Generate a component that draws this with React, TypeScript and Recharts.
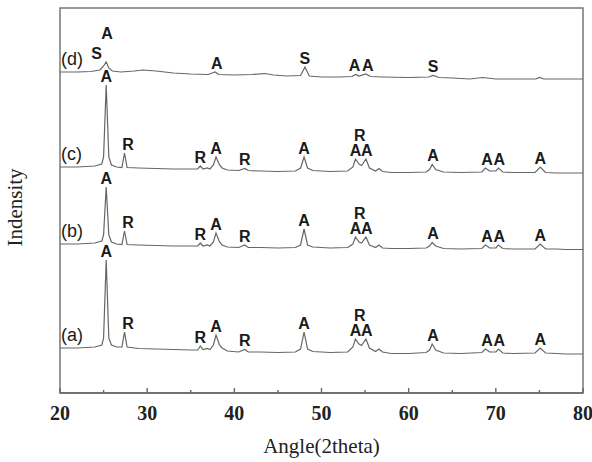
import React from 'react';
import {
  ComposedChart,
  Line,
  Scatter,
  XAxis,
  YAxis,
  ReferenceArea,
  Label,
} from 'recharts';

// XRD patterns, intensity in arbitrary units (already offset for stacking)
const patternA: [number, number][] = [
  [20, 45], [22, 45], [24, 46], [24.8, 48], [25.0, 55], [25.3, 133], [25.6, 55], [25.9, 48],
  [26.5, 46], [27.1, 46], [27.4, 61], [27.7, 46], [29, 44.5], [31, 44], [33, 43.5], [35, 43],
  [35.8, 43], [36.1, 47], [36.4, 43.5], [36.9, 44.5], [37.2, 43.5], [37.6, 48], [37.9, 58],
  [38.3, 48], [38.6, 45], [39.2, 42], [40.5, 41], [41.2, 43.5], [41.6, 41], [43, 41],
  [45, 40.5], [47, 41], [47.6, 44], [48.0, 61], [48.4, 44], [49, 41.5], [51, 40.5], [53, 41],
  [53.6, 46], [53.9, 54], [54.3, 49], [54.6, 47.5], [55.1, 54], [55.5, 45], [56.2, 41.5],
  [56.6, 44], [57, 41], [58, 39.5], [60, 39.5], [62, 40.5], [62.4, 43], [62.7, 49], [63.1, 43],
  [64, 40], [66, 39.5], [68.4, 40.5], [68.8, 44], [69.3, 41], [70.0, 41], [70.3, 44],
  [70.8, 40], [72, 39.5], [74.5, 40], [75.1, 45], [75.7, 40], [77, 39.5], [78, 39], [80, 39],
];

const patternB: [number, number][] = [
  [20, 149], [22, 149], [24, 150], [24.8, 152], [25.0, 158], [25.3, 206], [25.6, 158],
  [25.9, 151], [26.5, 149], [27.1, 148.5], [27.4, 162], [27.7, 148.5], [29, 148], [31, 147.5],
  [33, 147], [35, 147], [35.8, 147], [36.1, 150], [36.4, 147], [36.9, 148], [37.2, 147],
  [37.6, 151], [37.9, 160], [38.3, 151], [38.6, 148], [39.2, 146], [40.5, 145.5], [41.2, 148],
  [41.6, 145.5], [43, 145.5], [45, 145], [47, 145.5], [47.6, 148], [48.0, 164], [48.4, 148],
  [49, 146], [51, 145], [53, 145.5], [53.6, 149], [53.9, 156], [54.3, 151], [54.6, 150],
  [55.1, 156], [55.5, 148], [56.2, 145.5], [56.6, 148], [57, 145], [58, 144.5], [60, 144.5],
  [62, 145], [62.4, 147], [62.7, 150.5], [63.1, 147], [64, 144.5], [66, 144], [68.4, 144.5],
  [68.8, 148], [69.3, 145], [70.0, 145], [70.3, 148], [70.8, 144.5], [72, 144], [74.5, 144],
  [75.1, 149], [75.7, 144], [77, 144], [78, 143.5], [80, 143.5],
];

const patternC: [number, number][] = [
  [20, 226], [22, 226], [24, 227], [24.8, 229], [25.0, 236], [25.3, 308], [25.6, 236],
  [25.9, 228], [26.5, 226], [27.1, 225.5], [27.4, 240], [27.7, 225.5], [29, 225], [31, 224.5],
  [33, 224], [35, 224], [35.8, 224], [36.1, 227], [36.4, 224], [36.9, 225], [37.2, 224],
  [37.6, 228], [37.9, 236], [38.3, 228], [38.6, 225], [39.2, 223], [40.5, 222.5], [41.2, 224.5],
  [41.6, 222.5], [43, 222], [45, 221.5], [47, 222], [47.6, 225], [48.0, 236], [48.4, 225],
  [49, 222.5], [51, 221.5], [53, 222], [53.6, 226], [53.9, 234], [54.3, 229], [54.6, 227.5],
  [55.1, 234], [55.5, 225], [56.2, 222], [56.6, 224.5], [57, 221.5], [58, 220.5], [60, 220.5],
  [62, 221], [62.4, 223.5], [62.7, 228.5], [63.1, 223.5], [64, 221], [66, 220.5], [68.4, 221],
  [68.8, 225], [69.3, 222], [70.0, 222], [70.3, 225], [70.8, 221], [72, 220.5], [74.5, 220.5],
  [75.1, 226], [75.7, 220.5], [77, 220], [78, 220], [80, 220],
];

const patternD: [number, number][] = [
  [20, 321], [22, 321], [23.5, 321.5], [24.6, 323], [25.0, 327], [25.3, 331], [25.6, 325],
  [26, 322], [27, 321], [28.5, 322], [29.5, 323], [31, 322], [33, 320], [35, 319],
  [37, 318.5], [37.8, 321], [38.2, 318.5], [40, 318], [42, 318.5], [43.5, 319.5], [44.5, 318],
  [46, 317], [47.6, 317.5], [48.1, 326], [48.6, 317], [50, 316], [52, 316], [53.5, 316.5],
  [53.9, 318.5], [54.3, 317], [55.1, 319], [55.6, 316.5], [57, 316], [60, 315.5], [62.3, 316],
  [62.8, 317.5], [63.5, 315.5], [65, 315], [67, 314], [68.5, 315.5], [70, 314], [72, 314],
  [74.6, 314], [75, 315.5], [75.5, 314], [78, 314], [80, 314],
];

// phase markers: A = anatase, R = rutile, S = second phase
type Marker = { angle: number; text: string; row: number };

const markersA: Marker[] = [
  { angle: 25.3, text: 'A', row: 0 },
  { angle: 27.8, text: 'R', row: 0 },
  { angle: 36.1, text: 'R', row: 0 },
  { angle: 37.9, text: 'A', row: 0 },
  { angle: 41.2, text: 'R', row: 0 },
  { angle: 48.0, text: 'A', row: 0 },
  { angle: 53.9, text: 'A', row: 0 },
  { angle: 54.4, text: 'R', row: 1 },
  { angle: 55.2, text: 'A', row: 0 },
  { angle: 62.8, text: 'A', row: 0 },
  { angle: 69.0, text: 'A', row: 0 },
  { angle: 70.4, text: 'A', row: 0 },
  { angle: 75.1, text: 'A', row: 0 },
];
const markersB = markersA;
const markersC = markersA;
const markersD: Marker[] = [
  { angle: 24.2, text: 'S', row: 0.4 },
  { angle: 25.4, text: 'A', row: 1 },
  { angle: 38.0, text: 'A', row: 0 },
  { angle: 48.1, text: 'S', row: 0 },
  { angle: 53.8, text: 'A', row: 0 },
  { angle: 55.3, text: 'A', row: 0 },
  { angle: 62.8, text: 'S', row: 0 },
];

const sampleNames = ['(a)', '(b)', '(c)', '(d)'];
const angleTicks = [20, 25, 30, 35, 40, 45, 50, 55, 60, 65, 70, 75, 80];

const toRows = (p: [number, number][]) => p.map(([angle, value]) => ({ angle, value }));

// put each marker on top of the highest point near its angle
const placeMarkers = (p: [number, number][], markers: Marker[]) =>
  markers.map((m) => {
    const near = p.filter(([a]) => Math.abs(a - m.angle) <= 0.45).map(([, v]) => v);
    return { angle: m.angle, value: Math.max(...near), text: m.text, row: m.row };
  });

const patterns = [patternA, patternB, patternC, patternD];
const markerSets = [markersA, markersB, markersC, markersD];

const nameRows = patterns.map((p, i) => ({ angle: 20, value: p[0][1], text: sampleNames[i] }));

const MarkerText = (props: any) => {
  const { cx, cy, payload } = props;
  return (
    <text
      x={cx}
      y={cy - 9 - payload.row * 20}
      textAnchor="middle"
      dominantBaseline="central"
      fontFamily="'Liberation Sans', Arial, sans-serif"
      fontWeight="bold"
      fontSize={16}
      fill="#1a1a1a"
    >
      {payload.text}
    </text>
  );
};

const NameText = (props: any) => {
  const { cx, cy, payload } = props;
  return (
    <text
      x={cx + 1}
      y={cy - 13}
      dominantBaseline="central"
      fontFamily="'Liberation Sans', Arial, sans-serif"
      fontSize={18}
      fill="#1a1a1a"
    >
      {payload.text}
    </text>
  );
};

const AngleTick = (props: any) => {
  const { x, y, payload } = props;
  const major = payload.value % 10 === 0;
  return (
    <g>
      <line x1={x} x2={x} y1={y} y2={y - (major ? 5 : 3)} stroke="#666" strokeWidth={1.4} />
      {major && (
        <text
          x={x}
          y={y + 20}
          textAnchor="middle"
          dominantBaseline="central"
          fontFamily="'Liberation Serif', 'Times New Roman', serif"
          fontWeight="bold"
          fontSize={20}
          fill="#222"
        >
          {payload.value}
        </text>
      )}
    </g>
  );
};

const XTitle = (props: any) => {
  const { viewBox } = props;
  return (
    <text
      x={viewBox.x + viewBox.width / 2}
      y={viewBox.y + 53}
      textAnchor="middle"
      dominantBaseline="central"
      fontFamily="'Liberation Serif', 'Times New Roman', serif"
      fontSize={21}
      fill="#222"
    >
      Angle(2theta)
    </text>
  );
};

const YTitle = (props: any) => {
  const { viewBox } = props;
  const cx = viewBox.x + 15;
  const cy = viewBox.y + viewBox.height / 2 + 7;
  return (
    <text
      x={cx}
      y={cy}
      transform={`rotate(-90 ${cx} ${cy})`}
      textAnchor="middle"
      dominantBaseline="central"
      fontFamily="'Liberation Serif', 'Times New Roman', serif"
      fontSize={21}
      fill="#222"
    >
      Indensity
    </text>
  );
};

export default function App() {
  return (
    <div style={{ position: 'absolute', left: 0, top: 0, background: '#fff' }}>
      <ComposedChart width={592} height={462} margin={{ top: 8, right: 9, bottom: 0, left: 0 }}>
        <XAxis
          dataKey="angle"
          type="number"
          domain={[20, 80]}
          ticks={angleTicks}
          interval={0}
          allowDataOverflow
          height={69}
          tickSize={0}
          tickMargin={0}
          tickLine={false}
          tick={<AngleTick />}
          axisLine={{ stroke: '#666', strokeWidth: 1.5 }}
          label={<Label content={<XTitle />} />}
        />
        <YAxis
          type="number"
          domain={[0, 385]}
          width={60}
          tick={false}
          tickLine={false}
          axisLine={false}
          label={<Label content={<YTitle />} />}
        />
        <ReferenceArea
          x1={20}
          x2={80}
          y1={0}
          y2={385}
          fill="none"
          stroke="#777"
          strokeWidth={1.5}
          ifOverflow="visible"
        />
        {patterns.map((p, i) => (
          <Line
            key={sampleNames[i]}
            data={toRows(p)}
            dataKey="value"
            type="linear"
            stroke="#666"
            strokeWidth={1.2}
            dot={false}
            activeDot={false}
            isAnimationActive={false}
          />
        ))}
        {patterns.map((p, i) => (
          <Scatter
            key={`m-${sampleNames[i]}`}
            data={placeMarkers(p, markerSets[i])}
            dataKey="value"
            shape={<MarkerText />}
            isAnimationActive={false}
          />
        ))}
        <Scatter data={nameRows} dataKey="value" shape={<NameText />} isAnimationActive={false} />
      </ComposedChart>
    </div>
  );
}
